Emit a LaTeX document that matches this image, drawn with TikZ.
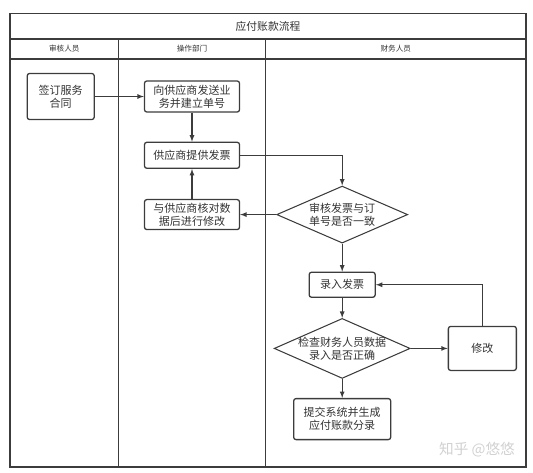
\documentclass[tikz,border=0pt]{standalone}
\usepackage{fontspec}
\setmainfont{Noto Sans CJK SC}
\usetikzlibrary{shapes.geometric, arrows}
\usetikzlibrary{positioning}
\definecolor{linegray}{HTML}{3C3C3C}
\definecolor{textgray}{HTML}{333333}
\tikzstyle{lane} = [draw=linegray, line width=1pt]
\tikzstyle{heading} = [text=textgray, font=\fontsize{9.2}{11}\selectfont]
\tikzstyle{lanehead} = [text=textgray, font=\fontsize{6.5}{8}\selectfont]
\tikzstyle{process} = [rectangle, rounded corners=2pt, minimum width=2.85cm, minimum height=0.9cm, inner sep=0pt, text centered, align=center, draw=linegray, line width=1.1pt, text=textgray, font=\fontsize{9.4}{11.3}\selectfont]
\tikzstyle{decision} = [diamond, aspect=2.3, minimum width=3.93cm, minimum height=1.71cm, inner sep=0pt, text centered, align=center, draw=linegray, line width=0.9pt, text=textgray, font=\fontsize{9.4}{11.3}\selectfont]
\tikzstyle{arrow} = [line width=0.9pt, draw=linegray, ->, >=latex]

\begin{document}
\begin{tikzpicture}[x=0.03cm, y=-0.03cm]
		\useasboundingbox (0,0) rectangle (533,472);

		% swimlanes
		\draw[lane] (10,13.5) rectangle (526,467);
		\draw[lane] (10,39) -- (526,39);
		\draw[lane] (10,59) -- (526,59);
		\draw[lane] (118.5,39) -- (118.5,467);
		\draw[lane] (265.5,39) -- (265.5,467);

		\node (title) [heading] at (268,26) {应付账款流程};
		\node (auditor) [lanehead] at (64.25,49) {审核人员};
		\node (operations) [lanehead] at (192,49) {操作部门};
		\node (finance) [lanehead] at (395.75,49) {财务人员};

		\node (send_order) [process, minimum height=0.93cm] at (192,96.5) {向供应商发送业\\务并建立单号};
		\node (sign_contract) [process, minimum width=2.01cm, minimum height=1.38cm, left=1.47cm of send_order] {签订服务\\合同};
		\node (supply_invoice) [process, minimum height=0.78cm, below=0.87cm of send_order] {供应商提供发票};
		\node (fix_with_supplier) [process, below=0.9cm of supply_invoice] {与供应商核对数\\据后进行修改};

		\node (check_invoice_if) [decision, right=1.08cm of fix_with_supplier] {审核发票与订\\单号是否一致};
		\node (enter_invoice) [process, minimum width=1.98cm, minimum height=0.75cm, below=0.84cm of check_invoice_if] {录入发票};

		\node (check_entry_if) [decision, aspect=2.27, minimum width=4.08cm, minimum height=1.8cm, inner xsep=-0.19cm, below=0.6cm of enter_invoice] {检查财务人员数据\\录入是否正确};
		\node (modify) [process, minimum width=2.04cm, minimum height=1.32cm, right=1.11cm of check_entry_if] {修改};
		\node (submit_entry) [process, minimum width=2.91cm, minimum height=1.23cm, below=0.57cm of check_entry_if] {提交系统并生成\\应付账款分录};

		\node (watermark) [text=black!18, font=\fontsize{12.5}{14}\selectfont] at (477,450) {知乎 @悠悠};

		\draw [arrow] (sign_contract) -- (send_order);
		\draw [arrow] (send_order) -- (supply_invoice);
		\draw [arrow] (supply_invoice.east) -| (check_invoice_if.north);
		\draw [arrow] (check_invoice_if.west) -- (fix_with_supplier.east);
		\draw [arrow] (fix_with_supplier) -- (supply_invoice);
		\draw [arrow] (check_invoice_if) -- (enter_invoice);
		\draw [arrow] (enter_invoice) -- (check_entry_if);
		\draw [arrow] (check_entry_if) -- (modify);
		\draw [arrow] (modify.north) |- (enter_invoice.east);
		\draw [arrow] (check_entry_if) -- (submit_entry);
	\end{tikzpicture}
\end{document}
